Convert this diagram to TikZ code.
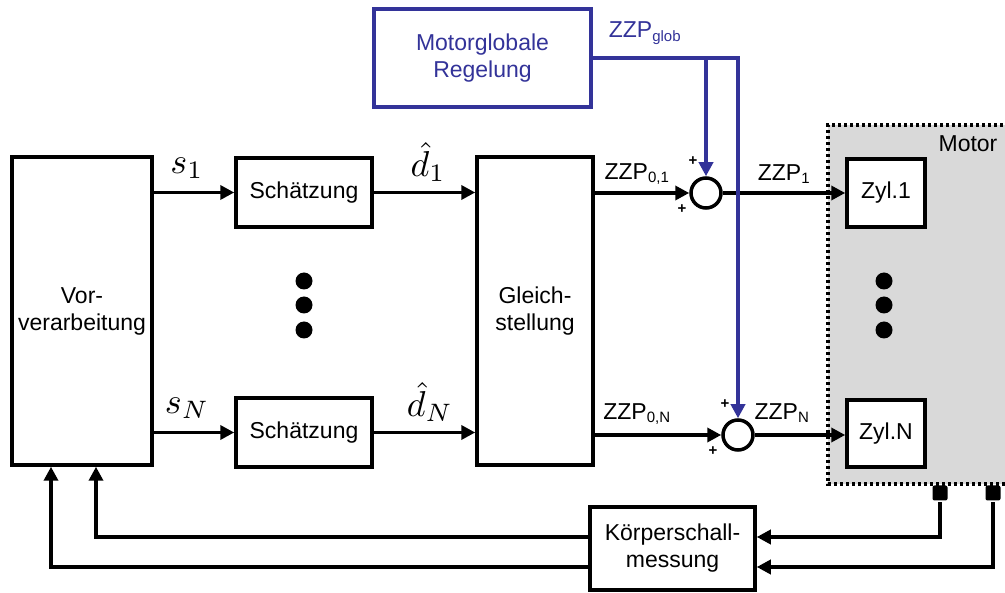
\RequirePackage{fix-cm}
\documentclass[tikz,border=0pt]{standalone}
\usepackage{fontspec}
\setmainfont{Liberation Sans}
\usetikzlibrary{arrows.meta}
\definecolor{myblue}{RGB}{51,51,153}
\definecolor{mgray}{RGB}{217,217,217}
\begin{document}
\begin{tikzpicture}[x=1pt,y=-1pt,line width=3.5pt,
  every node/.style={font=\fontsize{23}{27}\selectfont},
  blk/.style={draw,fill=white,inner sep=0pt,align=center},
  sumc/.style={draw,circle,fill=white,minimum size=30pt,inner sep=0pt},
  dotc/.style={circle,fill=black,minimum size=17pt,inner sep=0pt},
  sens/.style={fill=black,rounded corners=2pt,minimum size=15pt,inner sep=0pt},
  mlab/.style={font=\normalsize,scale=3.6},
  plus/.style={font=\bfseries\fontsize{15}{17}\selectfont,inner sep=0pt},
  arr/.style={-{Triangle[length=14pt,width=14pt]}}]
\useasboundingbox (0,0) rectangle (1005,593);
\clip (0,0) rectangle (1005,593);
% motor area
\path[fill=mgray] (828,125) rectangle (1015,484);
\draw[line width=3.5pt,dash pattern=on 3pt off 3pt] (1015,125) -- (828,125) -- (828,484) -- (1015,484);
\node (motor) at (968,144) {Motor};
% blocks
\node[blk,minimum width=140pt,minimum height=308pt] (vor) at (82,311) {Vor-\\verarbeitung};
\node[blk,minimum width=136pt,minimum height=69pt] (s1) at (304,192.5) {Schätzung};
\node[blk,minimum width=136pt,minimum height=69pt] (sN) at (304,432.5) {Schätzung};
\node[blk,minimum width=116pt,minimum height=308pt] (gl) at (535,311) {Gleich-\\stellung};
\node[blk,draw=myblue,text=myblue,minimum width=217pt,minimum height=98pt] (mg) at (482.5,58) {Motorglobale\\Regelung};
\node[blk,minimum width=78pt,minimum height=68pt] (z1) at (886,193) {Zyl.1};
\node[blk,minimum width=78pt,minimum height=67pt] (zN) at (886,433.5) {Zyl.N};
\node[blk,minimum width=165pt,minimum height=83pt] (kb) at (672.5,548.5) {Körperschall-\\messung};
\node[sumc] (sum1) at (706,193) {};
\node[sumc] (sumN) at (738,435) {};
% dots
\node[dotc] (d1) at (304,281) {};
\node[dotc] (d2) at (304,305) {};
\node[dotc] (d3) at (304,330) {};
\node[dotc] (e1) at (884,281) {};
\node[dotc] (e2) at (884,305) {};
\node[dotc] (e3) at (884,330) {};
% sensors
\node[sens] (se1) at (940,493) {};
\node[sens] (se2) at (993,493) {};
\coordinate (f1) at (0,537);
\coordinate (f2) at (0,567);
% signal arrows
\draw[arr] (vor.east |- s1.west) -- (s1.west);
\draw[arr] (vor.east |- sN.west) -- (sN.west);
\draw[arr] (s1.east) -- (gl.west |- s1.east);
\draw[arr] (sN.east) -- (gl.west |- sN.east);
\draw[arr] (gl.east |- sum1.west) -- (sum1.west);
\draw[arr] (gl.east |- sumN.west) -- (sumN.west);
\draw[arr] (sum1.east) -- (z1.west);
\draw[arr] (sumN.east) -- (zN.west |- sumN.east);
% blue
\draw[myblue,arr] (mg.east) -| (sumN.north);
\draw[myblue,arr] (sum1.north |- mg.east) -- (sum1.north);
% feedback
\draw[arr] (se1.south) |- (kb.east |- f1);
\draw[arr] (se2.south) |- (kb.east |- f2);
\draw[arr] (kb.west |- f1) -| ([xshift=14pt]vor.south);
\draw[arr] (kb.west |- f2) -| ([xshift=-31pt]vor.south);
% labels
\node[mlab] (ls1) at (187,168) {$s_1$};
\node[mlab] (lsN) at (187,408) {$s_N$};
\node[mlab] (ld1) at (428,162) {$\hat{d}_1$};
\node[mlab] (ldN) at (430,402) {$\hat{d}_N$};
\node[text=myblue] (lg) at (645,33) {ZZP\textsubscript{\fontsize{15}{17}\selectfont glob}};
\node (l01) at (637,174) {ZZP\textsubscript{\fontsize{15}{17}\selectfont 0,1}};
\node (l0N) at (637,414) {ZZP\textsubscript{\fontsize{15}{17}\selectfont 0,N}};
\node (l1) at (784,174) {ZZP\textsubscript{\fontsize{15}{17}\selectfont 1}};
\node (lN) at (782,413) {ZZP\textsubscript{\fontsize{15}{17}\selectfont N}};
\node[plus] (p1) at (693,161) {+};
\node[plus] (p2) at (682,209) {+};
\node[plus] (p3) at (725,404) {+};
\node[plus] (p4) at (713,451) {+};
\end{tikzpicture}
\end{document}
